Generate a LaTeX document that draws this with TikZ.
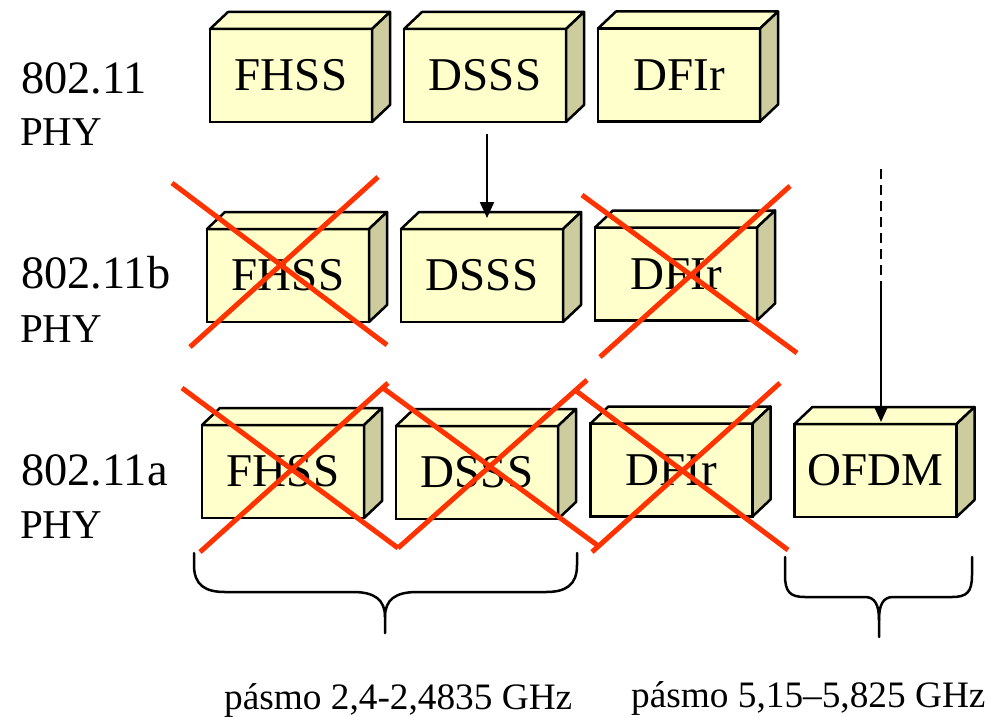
\documentclass[tikz,border=0pt]{standalone}
\usepackage{fontspec}
\setmainfont{Liberation Serif}
\usetikzlibrary{arrows.meta,calc}
\definecolor{boxfront}{HTML}{FFFFCC}
\definecolor{boxside}{HTML}{CCCC9E}
\definecolor{crossred}{HTML}{FF3300}
\begin{document}
\begin{tikzpicture}[x=1pt,y=-1pt,
  box/.style={draw=black,line width=2.5pt,fill=boxfront,minimum width=162pt,minimum height=93pt,inner sep=0pt,outer sep=0pt,font=\fontsize{47}{47}\selectfont},
  face/.style={draw=black,line width=2.5pt,line join=round},
  cross/.style={draw=crossred,line width=5pt},
  arr/.style={line width=2pt,-{Triangle[length=16pt,width=14pt]}},
  dashline/.style={line width=2pt,dash pattern=on 10pt off 6pt},
  brace/.style={line width=2.5pt,line cap=round},
  lbl/.style={anchor=base west,inner sep=0pt,font=\fontsize{46.4}{46}\selectfont},
  sublbl/.style={anchor=base west,inner sep=0pt,font=\fontsize{41}{41}\selectfont},
  band/.style={anchor=base west,inner sep=0pt,font=\fontsize{37.3}{37}\selectfont}]
\useasboundingbox (0,0) rectangle (990,717);

% boxes
\foreach \n/\x/\y/\t in {r1a/291/75.5/FHSS, r1b/485/75.5/DSSS, r1c/679/75/DFIr,
  r2a/288/275.5/FHSS, r2b/482/275.5/DSSS, r2c/676/274/DFIr,
  r3a/283/471.5/FHSS, r3b/477/472.5/DSSS, r3c/671.5/470/DFIr, r3d/875.5/470.5/OFDM}{
  \node[box] (\n) at (\x,\y) {\t};
  \filldraw[face,fill=boxfront] (\n.north west) -- ++(18,-17) -- ++(162,0) -- (\n.north east) -- cycle;
  \filldraw[face,fill=boxside] (\n.north east) -- ++(18,-17) -- ++(0,93) -- (\n.south east) -- cycle;
}

% row labels
\node[lbl] (l1) at (21,93) {802.11};
\node[sublbl] (p1) at (20,145) {PHY};
\node[lbl] (l2) at (21,288) {802.11b};
\node[sublbl] (p2) at (20,342) {PHY};
\node[lbl] (l3) at (21,485) {802.11a};
\node[sublbl] (p3) at (20,538) {PHY};

% arrows
\draw[arr] ($(r1b.south)+(2,12)$) -- ($(r2b.north)+(5,-11)$);
\coordinate (dtop) at (881,169);
\coordinate (dmid) at (881,283);
\draw[dashline] (dtop) -- (dmid);
\draw[arr] (dmid) -- ($(r3d.north)+(5.5,-2)$);

% crosses row 2
\draw[cross] (172,183) -- (387,345);
\draw[cross] (378,177) -- (190,347);
\draw[cross] (582,195) -- (797,353);
\draw[cross] (790,186) -- (600,357);
% crosses row 3
\draw[cross] (182,388) -- (398,548);
\draw[cross] (200,552) -- (388,383);
\draw[cross] (383,388) -- (597,545);
\draw[cross] (398,548) -- (587,380);
\draw[cross] (575,390) -- (788,550);
\draw[cross] (592,552) -- (780,383);

% braces
\draw[brace] (194,553) -- (194,565) .. controls (194,585) and (205,592) .. (225,592) -- (353,592) .. controls (375,592) and (385,600) .. (385,617) -- (385,633);
\draw[brace] (577,553) -- (577,565) .. controls (577,585) and (566,592) .. (546,592) -- (417,592) .. controls (395,592) and (385,600) .. (385,617);
\draw[brace] (785,557) -- (785,575) .. controls (785,592) and (790,597) .. (805,597) -- (865,597) .. controls (875,597) and (879,605) .. (879,620) -- (879,637);
\draw[brace] (972,557) -- (972,575) .. controls (972,592) and (967,597) .. (952,597) -- (893,597) .. controls (883,597) and (879,605) .. (879,620);

% band labels
\node[band] (b1) at (224,709) {pásmo 2,4-2,4835 GHz};
\node[band] (b2) at (631,707) {pásmo 5,15–5,825 GHz};
\end{tikzpicture}
\end{document}
